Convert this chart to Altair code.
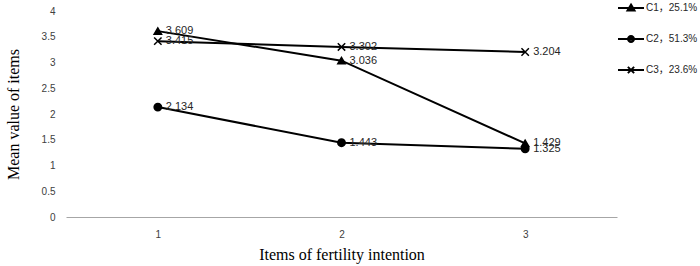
import altair as alt
import pandas as pd

items = [1, 2, 3]
series_names = ["C1，25.1%", "C2，51.3%", "C3，23.6%"]
c1_values = [3.609, 3.036, 1.429]
c2_values = [2.134, 1.443, 1.325]
c3_values = [3.415, 3.302, 3.204]
y_ticks = [0, 0.5, 1, 1.5, 2, 2.5, 3, 3.5, 4]

rows = []
for name, vals in zip(series_names, [c1_values, c2_values, c3_values]):
    for it, v in zip(items, vals):
        rows.append({"item": it, "series": name, "group": name, "value": v, "label": f"{v:.3f}"})
df = pd.DataFrame(rows)

SANS = "Liberation Sans, Noto Sans CJK SC"
SERIF = "Liberation Serif"

# marker shapes for data points (unit square [-1,1])
tri = "triangle-up"
xcross = "M-1,-1L1,1M-1,1L1,-1"
# legend symbols (stroked only): line plus marker
leg_tri = ("M-1,0H1"
           "M0,-0.26L0.27,0.2L-0.27,0.2Z"
           "M0,-0.076L0.108,0.108L-0.108,0.108Z")
leg_circ = ("M-1,0H1"
            "M-0.23,0A0.23,0.23 0 1,0 0.23,0A0.23,0.23 0 1,0 -0.23,0Z"
            "M-0.08,0A0.08,0.08 0 1,0 0.08,0A0.08,0.08 0 1,0 -0.08,0Z")
leg_x = "M-1,0H1M-0.24,-0.24L0.24,0.24M-0.24,0.24L0.24,-0.24"

x_enc = alt.X(
    "item:O",
    scale=alt.Scale(type="point", padding=0.5),
    axis=alt.Axis(
        title="Items of fertility intention",
        labelAngle=0,
        ticks=False,
        tickSize=0,
        domainColor="#a6a6a6",
        domainWidth=1,
        labelFont=SANS,
        labelFontSize=10,
        labelColor="#404040",
        labelPadding=12,
        titleFont=SERIF,
        titleFontSize=16,
        titleFontWeight="normal",
        titleColor="black",
        titlePadding=7,
    ),
)
y_enc = alt.Y(
    "value:Q",
    scale=alt.Scale(domain=[0, 4]),
    axis=alt.Axis(
        title="Mean value of items",
        values=y_ticks,
        format=".1~f",
        domain=False,
        ticks=False,
        tickSize=0,
        grid=False,
        labelFont=SANS,
        labelFontSize=10,
        labelColor="#404040",
        labelPadding=11,
        titleFont=SERIF,
        titleFontSize=16,
        titleFontWeight="normal",
        titleColor="black",
        titlePadding=20,
    ),
)

base = alt.Chart(df).encode(x=x_enc, y=y_enc)

legend_layer = base.mark_point(
    filled=False, color="black", strokeWidth=2, size=676, opacity=0
).encode(
    shape=alt.Shape(
        "series:N",
        scale=alt.Scale(domain=series_names, range=[leg_tri, leg_circ, leg_x]),
        legend=alt.Legend(
            title=None,
            orient="none",
            legendX=551,
            legendY=-17,
            symbolSize=676,
            symbolStrokeColor="black",
            symbolStrokeWidth=2,
            symbolOpacity=1,
            labelFont=SANS,
            labelFontSize=10,
            labelColor="#262626",
            labelOffset=1,
            rowPadding=10,
            padding=0,
        ),
    )
)

lines = base.mark_line(color="black", strokeWidth=2).encode(detail="series:N")

points = base.mark_point(
    filled=True, color="black", stroke="black", strokeWidth=1.5, size=55, opacity=1
).encode(
    shape=alt.Shape(
        "group:N",
        scale=alt.Scale(domain=series_names, range=[tri, "circle", xcross]),
        legend=None,
    )
)

labels = base.mark_text(
    align="left", baseline="middle", dx=8, font=SANS, fontSize=11, color="#262626"
).encode(text="label:N")

chart = (
    alt.layer(legend_layer, lines, points, labels)
    .resolve_scale(shape="independent")
    .resolve_legend(shape="independent")
    .properties(
        width=551,
        height=206,
        autosize=alt.AutoSizeParams(type="none"),
        padding={"left": 66, "top": 11, "right": 83, "bottom": 49},
        background="white",
    )
    .configure_view(stroke=None)
)

chart.save("out.html", embed_options={"renderer": "svg", "actions": False})
